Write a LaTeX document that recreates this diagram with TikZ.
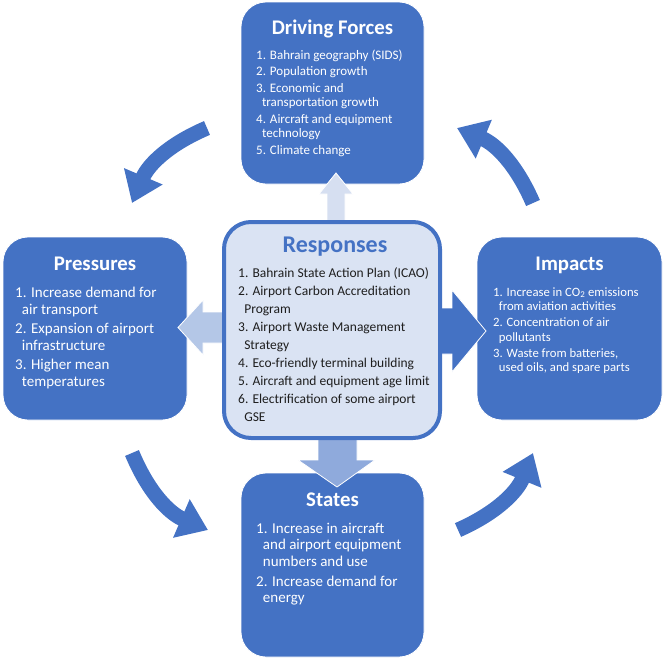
\documentclass[tikz,border=0pt]{standalone}
\usepackage{fontspec}
\setmainfont{Carlito}
\usetikzlibrary{arrows.meta}
\definecolor{dblue}{HTML}{4472C4}
\definecolor{rfill}{HTML}{DAE3F3}
\definecolor{upc}{HTML}{D6DFF1}
\definecolor{leftc}{HTML}{B4C7E7}
\definecolor{downc}{HTML}{8FAADC}
\definecolor{rtext}{HTML}{1E1E1E}
\newcommand\ind{\hspace*{0.45em}}
\newcommand\lst[1]{\parbox[t]{230pt}{\raggedright #1}}
\tikzset{
  bluebox/.style={draw=white, line width=0.8pt, fill=dblue, rounded corners=25pt, inner sep=0pt},
  respbox/.style={draw=dblue, line width=4pt, fill=rfill, rounded corners=27pt, inner sep=0pt},
  boxtitle/.style={text=white, font=\bfseries\fontsize{20.8}{24}\selectfont, inner sep=0pt},
  itemtxt/.style={text=white, inner sep=0pt, anchor=base west},
  blockarrow/.style={draw=white, line width=0.8pt},
  curv/.style={draw=dblue, line width=15pt, -{Triangle[width=40pt,length=29pt]}},
}
\begin{document}
\begin{tikzpicture}[x=1pt,y=-1pt]
\useasboundingbox (0,0) rectangle (666,662);
% outer boxes
\node[bluebox, minimum width=183pt, minimum height=182pt] (df) at (332.5,93) {};
\node[bluebox, minimum width=184pt, minimum height=183pt] (pr) at (95,328.5) {};
\node[bluebox, minimum width=185pt, minimum height=183pt] (im) at (569.5,328.5) {};
\node[bluebox, minimum width=183pt, minimum height=184pt] (st) at (332.5,565) {};
% block arrows from Responses
\draw[blockarrow, fill=upc] (327,226) -- (327,194) -- (319,194) -- (336,173) -- (353,194) -- (345,194) -- (345,226) -- cycle;
\draw[blockarrow, fill=leftc] (228,312) -- (203,312) -- (203,300) -- (178,327.5) -- (203,355) -- (203,343) -- (228,343) -- cycle;
\draw[blockarrow, fill=downc] (318,434) -- (318,460) -- (298,460) -- (337,487) -- (375,460) -- (357,460) -- (357,434) -- cycle;
\draw[blockarrow, fill=dblue] (436,308) -- (452,308) -- (452,290) -- (486,331) -- (452,372) -- (452,354) -- (436,354) -- cycle;
% Responses box
\node[respbox, minimum width=216pt, minimum height=216pt] (rs) at (332,330) {};
% curved arrows
\coordinate (a1s) at (207,128); \coordinate (a1e) at (132,203);
\coordinate (a2s) at (132,453); \coordinate (a2e) at (208,530);
\coordinate (a3s) at (458,530); \coordinate (a3e) at (533,453);
\coordinate (a4s) at (533,203); \coordinate (a4e) at (457,128);
\draw[curv] (a1s) to[bend right=22] (a1e);
\draw[curv] (a2s) to[bend right=22] (a2e);
\draw[curv] (a3s) to[bend right=22] (a3e);
\draw[curv] (a4s) to[bend right=22] (a4e);
% titles
\node[boxtitle, anchor=base] (dfh) at (332.5,34.5) {Driving Forces};
\node[boxtitle, anchor=base] (prh) at (95,270) {Pressures};
\node[boxtitle, anchor=base] (imh) at (569.5,270) {Impacts};
\node[boxtitle, anchor=base] (sth) at (332.5,506) {States};
\node[inner sep=0pt, anchor=base, text=dblue, font=\bfseries\fontsize{24}{28}\selectfont] (rsh) at (335,252) {Responses};
% item lists
\node[itemtxt, font=\fontsize{13}{14.5}\selectfont] (dft) at (256,59)
 {\lst{1. Bahrain geography (SIDS)\\[2pt]
  2. Population growth\\[2pt]
  3. Economic and\\
  \ind transportation growth\\[2pt]
  4. Aircraft and equipment\\
  \ind technology\\[2pt]
  5. Climate change}};
\node[itemtxt, font=\fontsize{15}{17}\selectfont] (prt) at (15,297)
 {\lst{1. Increase demand for\\
  \ind air transport\\[2pt]
  2. Expansion of airport\\
  \ind infrastructure\\[2pt]
  3. Higher mean\\
  \ind temperatures}};
\node[itemtxt, font=\fontsize{12.7}{14.5}\selectfont] (imt) at (493,296)
 {\lst{1. Increase in CO\textsubscript{2} emissions\\
  \ind from aviation activities\\[1.5pt]
  2. Concentration of air\\
  \ind pollutants\\[1.5pt]
  3. Waste from batteries,\\
  \ind used oils, and spare parts}};
\node[itemtxt, font=\fontsize{15}{16.5}\selectfont] (stt) at (256,533)
 {\lst{1. Increase in aircraft\\
  \ind and airport equipment\\
  \ind numbers and use\\[3.5pt]
  2. Increase demand for\\
  \ind energy}};
\node[itemtxt, text=rtext, font=\fontsize{13.5}{18}\selectfont] (rst) at (238,277)
 {\lst{1. Bahrain State Action Plan (ICAO)\\
  2. Airport Carbon Accreditation\\
  \ind Program\\
  3. Airport Waste Management\\
  \ind Strategy\\
  4. Eco-friendly terminal building\\
  5. Aircraft and equipment age limit\\
  6. Electrification of some airport\\
  \ind GSE}};
\end{tikzpicture}
\end{document}
